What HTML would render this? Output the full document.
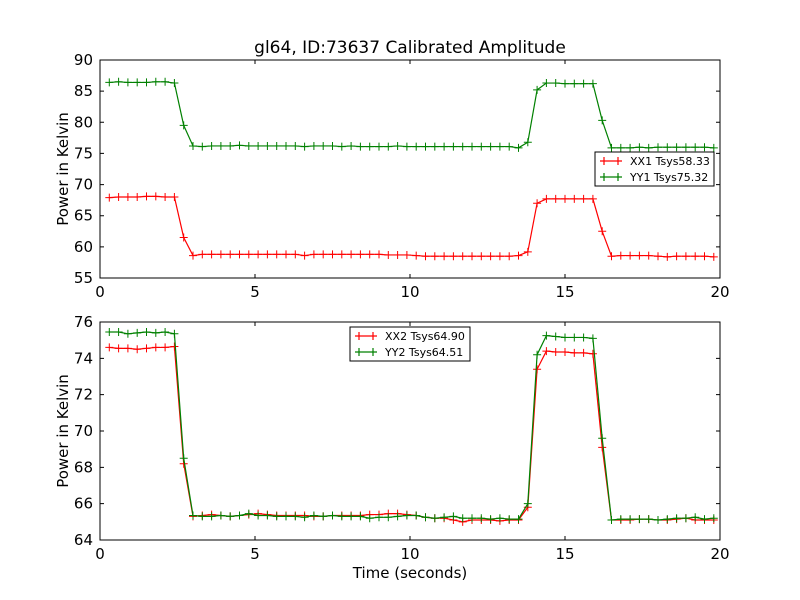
<!DOCTYPE html>
<html><head><meta charset="utf-8"><style>
body{margin:0;background:#fff;}
svg{display:block;font-family:"DejaVu Sans","Liberation Sans",sans-serif;}
</style></head><body>
<svg id="fig" width="800" height="600" viewBox="0 0 800 600">
<rect width="800" height="600" fill="#fff"/>
<text x="410" y="53" font-size="17" text-anchor="middle">gl64, ID:73637 Calibrated Amplitude</text>
</svg>
<script>
const times = Array.from({length:66},(_,i)=>+(0.3*(i+1)).toFixed(2));
const xTicks = [0,5,10,15,20];
const yTicksTop = [55,60,65,70,75,80,85,90];
const yTicksBot = [64,66,68,70,72,74,76];
const xx1 = [67.9,68.0,68.0,68.0,68.1,68.1,68.0,68.0,61.5,
58.6,58.8,58.8,58.8,58.8,58.8,58.8,58.8,58.8,58.8,58.8,58.8,58.6,58.8,58.8,58.8,58.8,58.8,58.8,58.8,58.8,58.7,58.7,58.7,58.6,58.5,58.5,58.5,58.5,58.5,58.5,58.5,58.5,58.5,58.5,58.6,
59.2,67.0,67.7,67.7,67.7,67.7,67.7,67.7,62.5,
58.5,58.6,58.6,58.6,58.6,58.5,58.4,58.5,58.5,58.5,58.5,58.4];
const yy1 = [86.4,86.5,86.4,86.4,86.4,86.5,86.5,86.3,79.5,
76.2,76.1,76.2,76.2,76.2,76.3,76.2,76.2,76.2,76.2,76.2,76.2,76.1,76.2,76.2,76.2,76.1,76.2,76.1,76.1,76.1,76.1,76.2,76.1,76.1,76.1,76.1,76.1,76.1,76.1,76.1,76.1,76.1,76.1,76.1,75.9,
76.8,85.2,86.3,86.3,86.2,86.2,86.2,86.2,80.3,
75.9,75.9,75.9,76.0,75.9,76.0,76.0,76.0,76.0,76.0,76.0,75.9];
const xx2 = [74.6,74.55,74.55,74.5,74.55,74.6,74.6,74.65,68.2,
65.3,65.35,65.4,65.35,65.3,65.35,65.4,65.45,65.4,65.35,65.35,65.35,65.35,65.3,65.3,65.35,65.35,65.35,65.35,65.4,65.4,65.45,65.45,65.4,65.35,65.25,65.2,65.2,65.1,65.0,65.1,65.1,65.1,65.05,65.1,65.1,
65.8,73.4,74.4,74.35,74.35,74.3,74.3,74.25,69.1,
65.1,65.1,65.1,65.15,65.15,65.1,65.1,65.15,65.2,65.1,65.1,65.1];
const yy2 = [75.45,75.45,75.35,75.4,75.45,75.4,75.45,75.35,68.5,
65.35,65.3,65.3,65.35,65.3,65.35,65.45,65.35,65.35,65.3,65.3,65.3,65.25,65.35,65.3,65.35,65.3,65.3,65.3,65.2,65.25,65.25,65.3,65.35,65.35,65.25,65.2,65.25,65.3,65.2,65.2,65.2,65.15,65.2,65.15,65.15,
66.0,74.2,75.25,75.2,75.15,75.15,75.15,75.1,69.6,
65.1,65.15,65.15,65.15,65.15,65.1,65.15,65.2,65.2,65.25,65.15,65.2];

const NS="http://www.w3.org/2000/svg";
const svg=document.getElementById('fig');
function mk(tag,attrs,parent){const e=document.createElementNS(NS,tag);for(const k in attrs)e.setAttribute(k,attrs[k]);(parent||svg).appendChild(e);return e;}

function panel(name,top,bottom,ymin,ymax,yticks,series,legend,showXTitle){
  const L=100,R=720;
  const g=mk('g',{});
  
  
  const xs=t=>L+(t-0)/(20-0)*(R-L);
  const ys=v=>bottom-(v-ymin)/(ymax-ymin)*(bottom-top);
  series.forEach(s=>{
    const sg=mk('g',{},g);
    
    
    const pts=s.vals.map((v,i)=>xs(times[i]).toFixed(2)+','+ys(v).toFixed(2)).join(' ');
    const pl=mk('polyline',{points:pts,fill:'none',stroke:s.color,'stroke-width':1.2},sg);
    
    
    let d='';
    s.vals.forEach((v,i)=>{const x=xs(times[i]),y=ys(v);d+=`M${x-4},${y}h8M${x},${y-4}v8`;});
    const m=mk('path',{d:d,stroke:s.color,'stroke-width':1},sg);
    
    
  });
  const frame=mk('rect',{x:L,y:top,width:R-L,height:bottom-top,fill:'none',stroke:'#000','stroke-width':1},g);
  
  
  xTicks.forEach(t=>{
    const x=xs(t);
    mk('path',{d:`M${x},${bottom}v-4M${x},${top}v4`,stroke:'#000'},g);
    const tx=mk('text',{x:x,y:bottom+19,'font-size':15,'text-anchor':'middle'},g);
    tx.textContent=t;
    
    
  });
  yticks.forEach(v=>{
    const y=ys(v);
    mk('path',{d:`M${L},${y}h4M${R},${y}h-4`,stroke:'#000'},g);
    const tx=mk('text',{x:L-7,y:y+5,'font-size':15,'text-anchor':'end'},g);
    tx.textContent=v;
    
    
  });
  const yt=mk('text',{x:0,y:0,'font-size':15,'text-anchor':'middle',transform:`translate(68,${(top+bottom)/2}) rotate(-90)`},g);
  yt.textContent='Power in Kelvin';
  
  
  if(showXTitle){
    const xt=mk('text',{x:410,y:578,'font-size':15,'text-anchor':'middle'},g);
    xt.textContent='Time (seconds)';
    
    
  }
  const lg=mk('g',{},g);
  
  
  mk('rect',{x:legend.x,y:legend.y,width:legend.w,height:34,fill:'#fff',stroke:'#000','stroke-width':1},lg);
  series.forEach((s,i)=>{
    const y=legend.y+9+i*16;
    const e=mk('g',{},lg);
    
    
    mk('path',{d:`M${legend.x+5},${y}h22M${legend.x+9},${y-4}v8M${legend.x+23},${y-4}v8M${legend.x+5},${y}h4`,stroke:s.color,'stroke-width':1.2},e);
    const t=mk('text',{x:legend.x+35,y:y+4,'font-size':11},e);
    t.textContent=s.label;
  });
}
panel('top-panel',60,278,55,90,yTicksTop,
  [{name:'series-xx1',vals:xx1,color:'#ff0000',label:'XX1 Tsys58.33'},{name:'series-yy1',vals:yy1,color:'#008000',label:'YY1 Tsys75.32'}],
  {x:595,y:152,w:119},false);
panel('bottom-panel',322,540,64,76,yTicksBot,
  [{name:'series-xx2',vals:xx2,color:'#ff0000',label:'XX2 Tsys64.90'},{name:'series-yy2',vals:yy2,color:'#008000',label:'YY2 Tsys64.51'}],
  {x:350,y:327,w:120},true);
</script>
</body></html>
